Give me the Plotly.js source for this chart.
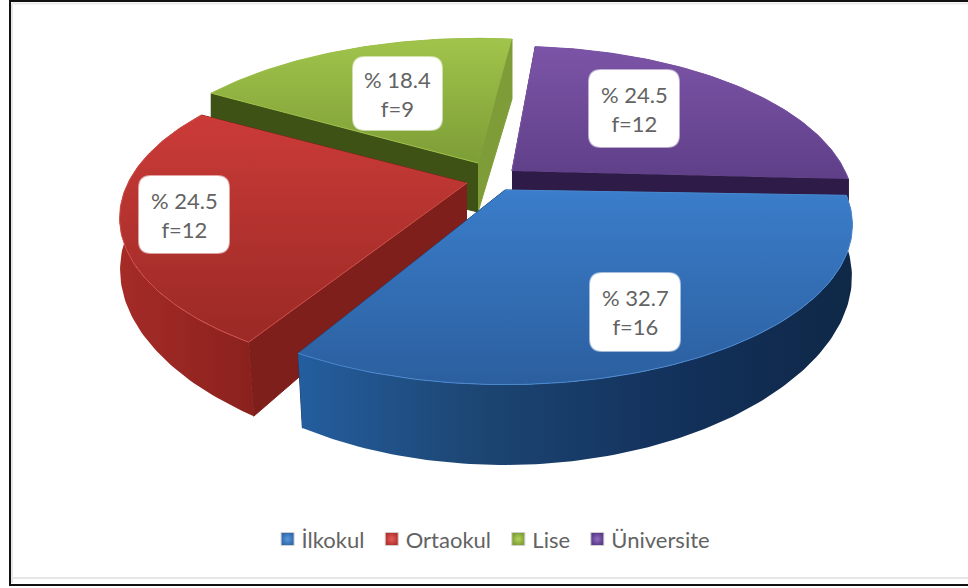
<!DOCTYPE html>
<html>
<head>
<meta charset="utf-8">
<script src="https://cdn.plot.ly/plotly-3.0.1.min.js"></script>
<style>html,body{margin:0;padding:0;background:#fff}#chart{width:968px;height:588px}</style>
</head>
<body>
<div id="chart"></div>
<script>
// Education level distribution, shown as an exploded perspective pie.
const categories = ["İlkokul", "Ortaokul", "Lise", "Üniversite"];
const percents = [32.7, 24.5, 18.4, 24.5];
const frequencies = [16, 12, 9, 12];

// Look of each slice: apex, radius, angle nudge, surface and wall colours.
const sliceStyles = [
  {ax:505, ay:190, r:339, nudge:0, top:["#3b7dca","#2b5f9f"], rim:"#4a88d0", cutA:"#1b3f6c", cutB:"#1b3f6c",
   wall:[[0,"#245e9f"],[0.3,"#1d4775"],[0.7,"#12305a"],[1,"#0f2847"]], legend:"#2f68ad", glow:"#5c97dc"},
  {ax:467, ay:183, r:339, nudge:2, top:["#cb3b38","#9a2925"], rim:"#cf4f49", cutA:"#7f1f1b", cutB:"#7f1f1b",
   wall:[[0,"#a52b27"],[1,"#8a211d"]], legend:"#b8302d", glow:"#e0605c"},
  {ax:478, ay:163, r:345, nudge:3, top:["#a0c44b","#7d9d36"], rim:"#a0c44b", cutA:"#3e5216", cutB:"#7e9d38",
   wall:[[0,"#3e5216"],[1,"#3e5216"]], legend:"#7f9f36", glow:"#b4d45c"},
  {ax:512, ay:171, r:333, nudge:1, top:["#7c54a7","#5f3f88"], rim:"#7c54a7", cutA:"#2f1b47", cutB:"#2f1b47",
   wall:[[0,"#2f1b47"],[1,"#2f1b47"]], legend:"#5a3a88", glow:"#8f6cc0"}
];

// Bounds of the white value boxes.
const labelBoxes = [[590,273,680,351],[139,176,229,253],[353,57,442,130],[589,70,679,147]];

const START_ANGLE = 2, PERSPECTIVE = 0.219, FLATTEN = 152, BASE_DEPTH = 49;
const VANISH_X = 484, LEAN = 0.03;
const rad = d => d * Math.PI / 180;

// Circle point projected onto the tilted plane, with its foot on the base plane.
function project(s, deg) {
  const c = Math.cos(rad(deg)), n = Math.sin(rad(deg));
  const k = 1 / (1 - PERSPECTIVE * n);
  const depth = n >= 0 ? BASE_DEPTH * k * k : BASE_DEPTH - 11 * n;
  const x = s.ax + s.r * c * k, y = s.ay + FLATTEN * n * k;
  const lean = n > 0 ? LEAN * n * n : 0;
  return {x: x, y: y, fx: x + (VANISH_X - x) * lean, fy: y + depth};
}

function arc(s, from, to) {
  const pts = [];
  const steps = Math.ceil(Math.abs(to - from));
  for (let i = 0; i <= steps; i++) pts.push(project(s, from + (to - from) * i / steps));
  return pts;
}

function polygon(points, extra) {
  return Object.assign({
    x: points.map(p => p[0]), y: points.map(p => p[1]),
    type: "scatter", mode: "lines", fill: "toself", line: {width: 0},
    hoverinfo: "skip", showlegend: false
  }, extra);
}

// Sweep of each slice, taken from its share of the whole.
const total = percents.reduce((a, b) => a + b, 0);
let cursor = START_ANGLE;
const sweeps = percents.map((p, i) => {
  const span = p / total * 360;
  const item = {from: cursor + sliceStyles[i].nudge, to: cursor + sliceStyles[i].nudge + span};
  cursor += span;
  return item;
});

const traces = [];
// Painted from the back of the pie to the front.
[3, 2, 1, 0].forEach(i => {
  const s = sliceStyles[i], sw = sweeps[i];
  const a = project(s, sw.from), b = project(s, sw.to);
  const apex = [s.ax, s.ay];
  const wallAt = (p, color) => polygon(
    [apex, [p.x, p.y], [p.fx, p.fy], [s.ax, s.ay + BASE_DEPTH]],
    {fillcolor: color, line: {width: 1, color: color}});

  const rimPts = arc(s, sw.from, sw.to);
  const upper = rimPts.map(p => [p.x, p.y]);
  const lower = rimPts.slice().reverse().map(p => [p.fx, p.fy]);
  const outer = polygon(upper.concat(lower), {
    fillgradient: {type: "horizontal", colorscale: s.wall}
  });
  const cuts = [wallAt(b, s.cutB), wallAt(a, s.cutA)];

  // Slices facing the viewer show their rim in front of the cut faces.
  const facesViewer = Math.sin(rad((sw.from + sw.to) / 2)) > 0;
  if (facesViewer) traces.push(...cuts, outer);
  else traces.push(outer, ...cuts);

  traces.push(polygon([apex].concat(upper), {
    line: {width: 1, color: s.rim},
    fillgradient: {type: "vertical", colorscale: [[0, s.top[1]], [1, s.top[0]]]}
  }));
});

// Legend entries.
categories.forEach((name, i) => traces.push({
  x: [null], y: [null], type: "scatter", mode: "markers", name: name,
  marker: {symbol: "square", size: 13, color: sliceStyles[i].legend,
           gradient: {type: "radial", color: sliceStyles[i].glow},
           line: {width: 1, color: "#cfcfcf"}},
  hoverinfo: "skip", showlegend: true
}));

function roundedBox(b) {
  const [l, t, r, d] = b, q = 12;
  return {
    type: "path", layer: "above", fillcolor: "#ffffff",
    line: {color: "rgba(255,255,255,0.55)", width: 2},
    path: `M${l + q},${t} L${r - q},${t} Q${r},${t} ${r},${t + q} L${r},${d - q} Q${r},${d} ${r - q},${d}` +
          ` L${l + q},${d} Q${l},${d} ${l},${d - q} L${l},${t + q} Q${l},${t} ${l + q},${t} Z`
  };
}

const frame = [
  {type:"line", x0:12, x1:12, y0:3, y1:583, line:{color:"#e6e6e6", width:2}},
  {type:"line", x0:12, x1:968, y0:3.5, y1:3.5, line:{color:"#ececec", width:2}},
  {type:"line", x0:12, x1:968, y0:578, y1:578, line:{color:"#e6e6e6", width:2}},
  {type:"line", x0:10, x1:10, y0:0, y1:586, line:{color:"#111111", width:2}},
  {type:"line", x0:9, x1:968, y0:1, y1:1, line:{color:"#111111", width:2}},
  {type:"line", x0:9, x1:968, y0:585, y1:585, line:{color:"#111111", width:2}}
];

const annotations = percents.map((p, i) => {
  const b = labelBoxes[i];
  return {
    x: (b[0] + b[2]) / 2, y: (b[1] + b[3]) / 2, xref: "x", yref: "y",
    text: "% " + p.toFixed(1) + "<br>f=" + frequencies[i],
    showarrow: false, font: {family: "Lato, Carlito, sans-serif", size: 22, color: "#636363"}
  };
});

Plotly.newPlot("chart", traces, {
  width: 968, height: 588,
  margin: {l: 0, r: 0, t: 0, b: 0},
  paper_bgcolor: "#ffffff", plot_bgcolor: "#ffffff",
  xaxis: {range: [0, 968], visible: false, fixedrange: true},
  yaxis: {range: [588, 0], visible: false, fixedrange: true},
  shapes: frame.concat(labelBoxes.map(roundedBox)),
  annotations: annotations,
  showlegend: true,
  legend: {
    orientation: "h", x: 0.498, xanchor: "center", y: 0.083, yanchor: "middle",
    font: {family: "Lato, Carlito, sans-serif", size: 22, color: "#636363"},
    traceorder: "normal", bgcolor: "rgba(0,0,0,0)"
  }
}, {displayModeBar: false, staticPlot: true}).then(() => {
  // Tighten the legend: swatches nearer their labels, entries nearer each other.
  document.querySelectorAll("#chart .legendpoints").forEach(g => g.setAttribute("transform", "translate(6,0)"));
  document.querySelectorAll("#chart .legend .traces").forEach((g, i) => {
    const m = /translate\(([-\d.]+)[ ,]+([-\d.]+)\)/.exec(g.getAttribute("transform") || "");
    if (m) g.setAttribute("transform", `translate(${+m[1] + 12 - 3.7 * i},${m[2]})`);
  });
});
</script>
</body>
</html>
